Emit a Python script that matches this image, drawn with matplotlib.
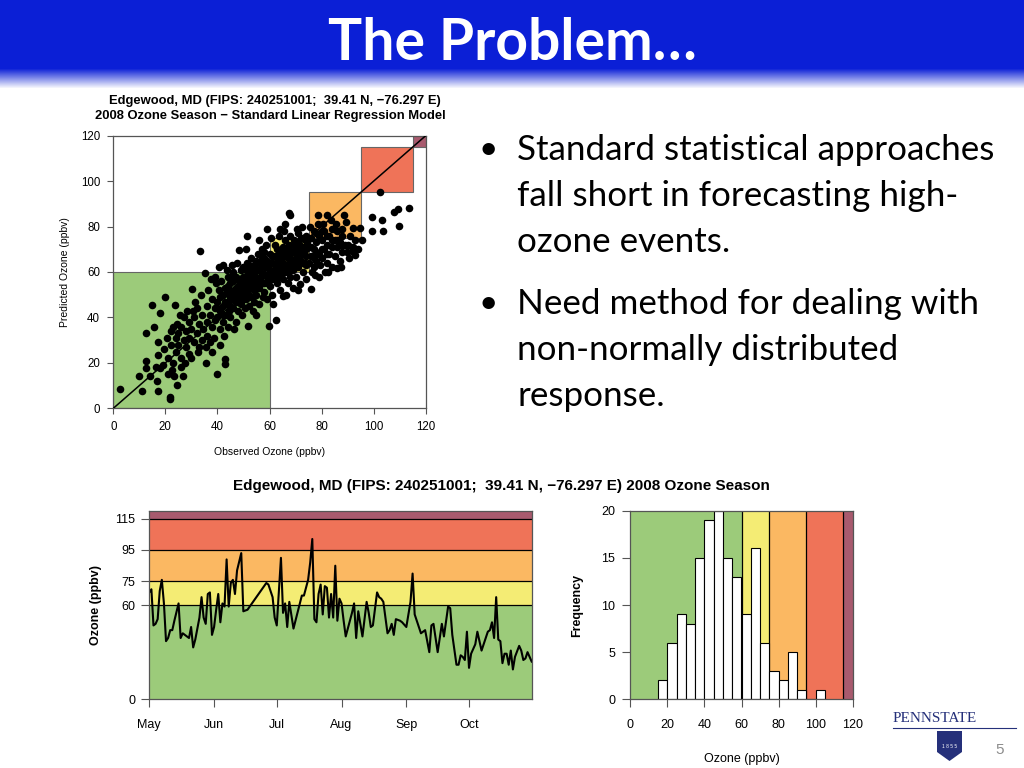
import numpy as np
import pandas as pd
import matplotlib
matplotlib.use("Agg")
import matplotlib.pyplot as plt
import matplotlib.dates as mdates
from matplotlib.patches import Rectangle, Polygon

plt.rcParams['font.family'] = ['Liberation Sans', 'DejaVu Sans']

# --- data ---
aq_edges = [0, 60, 75, 95, 115, 120]
aq_colors = ['#9ccb7a', '#f4ec74', '#fbb862', '#ef7358', '#a85a6e']

# observed vs predicted (ppbv), scatter panel
scatter_pts = np.array([
    (2.6, 8.5), (10.9, 7.6), (9.9, 14), (12.5, 17.6), (12.5, 20.8), (12.5, 33), (15, 45.5), (14, 14),
    (16.6, 12), (17, 7.8), (15.6, 36), (17.3, 29.3), (17.3, 23.5), (18, 17.9), (18, 42), (19, 19),
    (19.5, 26), (16.5, 18),
    (20, 49), (21.8, 4.8), (21.8, 4), (23.7, 45.5), (24.3, 10.3), (21, 15), (21, 22), (22, 28),
    (22, 34), (23, 36), (23, 20), (24, 25), (24, 31), (20.5, 31), (22.5, 17), (24.5, 37), (23.5, 14),
    (26.6, 14.4), (25, 28), (25, 33), (26, 36), (26, 22), (27, 30), (27, 40), (28, 27), (28, 34),
    (29, 38), (29, 24), (26, 18), (28.5, 43), (25.5, 41), (27.5, 20), (29, 31),
    (30, 22), (30.4, 52.5), (33.3, 69.4), (30, 35), (31, 29), (31, 40), (32, 33), (32, 44), (33, 27),
    (33, 37), (34, 30), (34, 41), (31.5, 47), (32.5, 25), (34.5, 35), (30.5, 43), (33.5, 50),
    (35.4, 59.4), (35.8, 19.8), (37.8, 25), (36, 32), (36, 38), (36, 45), (37, 41), (37, 29), (38, 36),
    (38, 48), (39, 39), (39, 44), (36.5, 52), (38.5, 31), (39.5, 55), (37.5, 57), (35.5, 27),
    (39, 58), (40, 15.2), (43, 19.4), (43, 21.7), (41, 28), (40, 40), (40, 47), (41, 35), (41, 43),
    (42, 38), (42, 50), (42, 45), (43, 41), (43, 53), (44, 47), (44, 36), (44, 58), (40.5, 52),
    (41.5, 56), (42.5, 32), (43.5, 61), (44.5, 43), (40.5, 62), (42, 63),
    (45, 40), (45, 49), (45, 55), (46, 44), (46, 51), (46, 60), (47, 47), (47, 53), (47, 38), (48, 50),
    (48, 57), (48, 43), (49, 46), (49, 54), (49, 61), (45.5, 63), (46.5, 35), (48.4, 69.6), (47.5, 64),
    (49.5, 41), (45, 58), (48, 52),
    (51.6, 36.4), (51.2, 76), (55, 41), (50, 48), (50, 55), (50, 62), (51, 51), (51, 58), (52, 45),
    (52, 54), (52, 63), (53, 49), (53, 57), (53, 66), (54, 52), (54, 60), (54, 47), (50.5, 44),
    (51.5, 64), (52.5, 59), (53.5, 43), (54.5, 56), (50, 53), (51, 70), (53, 61),
    (59.9, 36.2), (59, 79), (55, 50), (55, 58), (55, 65), (56, 53), (56, 61), (56, 46), (57, 55),
    (57, 63), (57, 70), (58, 51), (58, 59), (58, 66), (59, 55), (59, 62), (59, 48), (55.5, 68),
    (56.5, 57), (57.5, 49), (58.5, 72), (59.5, 59), (56, 74),
    (62.5, 39), (65, 49.5), (64, 78.8), (60, 54), (60, 61), (60, 68), (61, 57), (61, 64), (61, 50),
    (62, 60), (62, 67), (62, 72), (63, 55), (63, 63), (63, 70), (64, 58), (64, 66), (64, 52),
    (60.5, 75), (61.5, 46), (62.5, 64), (63.5, 76), (64.5, 61),
    (67.5, 85.8), (67.9, 84.9), (65, 57), (65, 64), (65, 71), (66, 60), (66, 67), (66, 74), (67, 55),
    (67, 63), (67, 70), (68, 58), (68, 66), (68, 76), (69, 61), (69, 69), (69, 53), (65.5, 78),
    (66.5, 50), (67.5, 72), (68.5, 63), (69.5, 74), (66, 81),
    (71.7, 54.5), (70, 58), (70, 66), (70, 72), (71, 62), (71, 69), (71, 77), (72, 65), (72, 71),
    (73, 60), (73, 68), (73, 75), (74, 63), (74, 70), (74, 57), (70.5, 79), (72.5, 80), (73.5, 64),
    (74.5, 73), (71, 52),
    (75.8, 52.5), (77.6, 58.7), (79, 57.9), (78.8, 85), (75, 64), (75, 71), (76, 67), (76, 75),
    (77, 62), (77, 70), (77, 78), (78, 65), (78, 73), (79, 68), (79, 76), (75.5, 80), (76.5, 60),
    (78.5, 81), (79.5, 63),
    (81.3, 59.8), (82, 84.9), (80, 66), (80, 74), (81, 70), (81, 78), (82, 64), (82, 72), (83, 68),
    (83, 76), (84, 62), (84, 71), (84, 79), (80.5, 81), (82.5, 60), (83.5, 83),
    (86, 61.9), (88.6, 85), (89.4, 82), (89.9, 68.9), (85, 67), (85, 74), (86, 71), (86, 78),
    (87, 65), (87, 73), (88, 69), (88, 76), (89, 72), (85.5, 81), (87.5, 62),
    (91.5, 69.4), (92.2, 79.2), (94.8, 79.2), (95.4, 74), (93, 67.7), (90, 72), (91, 76), (92, 71),
    (93, 74), (94, 70), (90.5, 66),
    (102.4, 95), (99.2, 84), (99.2, 78.2), (103.4, 83), (103.7, 78.2), (107.8, 86.2), (109.5, 87.7),
    (113.7, 88), (109.8, 80.4),
    # dense core
    (40, 44), (41, 49), (42, 41), (43, 47), (44, 51), (44, 54), (45, 45), (45, 52), (46, 48),
    (46, 56), (47, 50), (47, 58), (48, 47), (48, 54), (49, 50), (49, 57), (50, 51), (50, 58),
    (51, 48), (51, 55), (51, 61), (52, 50), (52, 57), (53, 53), (53, 59), (54, 55), (54, 63),
    (55, 53), (55, 61), (56, 56), (56, 64), (57, 59), (57, 66), (58, 55), (58, 62), (58, 69),
    (59, 58), (59, 65), (60, 58), (60, 64), (61, 60), (61, 67), (62, 57), (62, 63), (63, 60),
    (63, 66), (64, 62), (64, 69), (65, 60), (65, 67), (66, 63), (66, 70), (67, 60), (67, 66),
    (68, 62), (68, 69), (69, 65), (69, 72), (70, 62), (70, 69), (71, 65), (71, 73), (72, 68),
    (72, 75), (73, 64), (73, 71), (74, 67), (74, 76), (76, 71), (77, 66), (78, 69), (78, 77),
    (80, 70), (80, 78), (82, 68), (82, 76), (84, 74), (86, 74), (88, 72), (88, 79),
])
obs_ozone = scatter_pts[:, 0]
pred_ozone = scatter_pts[:, 1]

# daily max ozone, 2008 season (days after May 1)
season_day = [0, 1, 2, 3, 4, 5, 6, 7, 8, 9, 10, 11, 12, 14, 15, 16, 17, 19, 20, 21, 22, 24, 25, 26,
              27, 28, 29, 30, 31, 32, 33, 34, 35, 36, 37, 38, 39, 40, 41, 42, 44, 45, 47, 56, 57,
              59, 60, 61, 63, 64, 65, 66, 67, 69, 73, 74, 76, 77, 78, 79, 80, 81, 82, 83, 84, 85,
              86, 87, 88, 89, 90, 91, 92, 93, 94, 97, 98, 99, 100, 102, 104, 105, 106, 107, 109,
              110, 111, 112, 114, 115, 116, 117, 118, 120, 121, 123, 125, 126, 127, 130, 132, 134,
              135, 136, 138, 140, 141, 143, 144, 145, 147, 148, 149, 150, 151, 152, 153, 154, 156,
              157, 159, 160, 162, 163, 164, 165, 166, 167, 168, 169, 170, 171, 172, 173, 174, 175,
              177, 178, 179, 180, 181, 183]
daily_ozone = [68, 70, 47, 48, 51, 69, 76, 61, 37, 39, 44, 44, 50, 61, 39, 42, 41, 39, 46, 33, 38,
               52, 65, 52, 48, 67, 68, 41, 46, 57, 67, 49, 61, 59, 89, 59, 74, 76, 67, 82, 93, 56,
               57, 74, 73, 65, 52, 47, 90, 55, 61, 46, 62, 45, 66, 66, 76, 87, 102, 51, 49, 67, 73,
               54, 72, 71, 52, 67, 52, 85, 50, 64, 61, 50, 40, 55, 61, 39, 56, 40, 62, 55, 46, 47,
               68, 65, 64, 62, 42, 44, 48, 41, 51, 50, 49, 46, 62, 80, 54, 42, 44, 30, 47, 48, 30,
               48, 40, 59, 58, 41, 22, 22, 28, 27, 25, 43, 20, 29, 35, 43, 31, 35, 43, 44, 49, 39,
               65, 38, 37, 23, 29, 29, 22, 31, 19, 27, 34, 31, 25, 26, 30, 24]

# histogram counts, 5 ppbv bins from 15 to 105
hist_edges = np.arange(15, 110, 5)
hist_counts = [2, 6, 9, 8, 15, 19, 20, 15, 13, 9, 16, 6, 3, 2, 5, 1, 0, 1]

W, H = 1024, 768
fig = plt.figure(figsize=(W / 100, H / 100), dpi=100)

# header band with fade
hdr = fig.add_axes([0, 1 - 90 / H, 1, 90 / H])
grad = np.ones((90, 1, 3))
blue = np.array([11, 31, 214]) / 255
for i in range(90):
    t = 0 if i < 68 else min(1, (i - 68) / 20)
    grad[i, 0] = blue * (1 - t) + np.array([1, 1, 1]) * t
hdr.imshow(grad, aspect='auto', extent=[0, 1, 0, 1])
hdr.axis('off')
fig.text(0.5, 1 - 43 / H, 'The Problem…', ha='center', va='center', color='white',
         fontsize=41, fontweight='bold', family=['Lato', 'DejaVu Sans'])

# bullets
bullets = [
    ['Standard statistical approaches', 'fall short in forecasting high-', 'ozone events.'],
    ['Need method for dealing with', 'non-normally distributed', 'response.'],
]
y0s = [150, 304]
for lines, y0 in zip(bullets, y0s):
    fig.text(478 / W, 1 - y0 / H, '•', ha='left', va='center', fontsize=24,
             family=['Lato', 'DejaVu Sans'])
    for k, ln in enumerate(lines):
        fig.text(517 / W, 1 - (y0 + k * 46) / H, ln, ha='left', va='center', fontsize=25.2,
                 family=['Lato', 'DejaVu Sans'])

frame_col = '#555555'


def style_axes(ax, size, length, xpad, ypad):
    for s in ax.spines.values():
        s.set_color(frame_col)
        s.set_linewidth(0.9)
    ax.tick_params(direction='out', length=length, width=0.8, color=frame_col, labelsize=size)
    ax.tick_params(axis='x', pad=xpad)
    ax.tick_params(axis='y', pad=ypad)


# --- scatter ---
ax1 = fig.add_axes([113.3 / W, 1 - 408.3 / H, 312.4 / W, 272.6 / H])
for lo, hi, c in zip(aq_edges[:-1], aq_edges[1:], aq_colors):
    ax1.add_patch(Rectangle((lo, lo), hi - lo, hi - lo, facecolor=c, edgecolor='#666666', lw=0.8,
                            zorder=1))
ax1.scatter(obs_ozone, pred_ozone, s=30, color='black', zorder=2, linewidths=0)
ax1.plot([0, 120], [0, 120], color='black', lw=1.1, zorder=3)
ax1.set_xlim(0, 120)
ax1.set_ylim(0, 120)
ax1.set_xticks(range(0, 121, 20))
ax1.set_yticks(range(0, 121, 20))
style_axes(ax1, 8.3, 4.5, 5, 5)
ax1.set_xlabel('Observed Ozone (ppbv)', fontsize=7.5, labelpad=10)
ax1.set_ylabel('Predicted Ozone (ppbv)', fontsize=7.5, labelpad=8)
fig.text(275 / W, 1 - 101 / H, 'Edgewood, MD (FIPS: 240251001;  39.41 N, \u221276.297 E)',
         ha='center', va='center', fontsize=9.4, fontweight='bold')
fig.text(270 / W, 1 - 116 / H, '2008 Ozone Season \u2212 Standard Linear Regression Model',
         ha='center', va='center', fontsize=9.4, fontweight='bold')

# --- time series ---
ax2 = fig.add_axes([149.3 / W, 1 - 699.3 / H, 382.4 / W, 188.6 / H])
for lo, hi, c in zip(aq_edges[:-1], aq_edges[1:], aq_colors):
    ax2.axhspan(lo, hi, color=c, zorder=0, lw=0)
for lev in aq_edges[1:-1]:
    ax2.axhline(lev, color='black', lw=0.9, zorder=1)
dates = pd.Timestamp('2008-05-01') + pd.to_timedelta(season_day, unit='D')
ax2.plot(dates, daily_ozone, color='black', lw=1.5, zorder=2)
ax2.set_xlim(pd.Timestamp('2008-05-01'), pd.Timestamp('2008-10-31'))
ax2.set_ylim(0, 120)
ax2.set_yticks([0, 60, 75, 95, 115])
ax2.xaxis.set_major_locator(mdates.MonthLocator())
ax2.xaxis.set_major_formatter(mdates.DateFormatter('%b'))
style_axes(ax2, 9, 6, 8, 4)
ax2.set_ylabel('Ozone (ppbv)', fontsize=9, fontweight='bold', labelpad=10)
fig.text(501 / W, 1 - 486 / H,
         'Edgewood, MD (FIPS: 240251001;  39.41 N, \u221276.297 E) 2008 Ozone Season',
         ha='center', va='center', fontsize=11, fontweight='bold')

# --- histogram ---
ax3 = fig.add_axes([630.3 / W, 1 - 699.3 / H, 222.4 / W, 188.6 / H])
for lo, hi, c in zip(aq_edges[:-1], aq_edges[1:], aq_colors):
    ax3.axvspan(lo, hi, color=c, zorder=0, lw=0)
for lev in aq_edges[1:-1]:
    ax3.axvline(lev, color='black', lw=0.9, zorder=1)
ax3.bar(hist_edges[:-1], hist_counts, width=5, align='edge', color='white', edgecolor='black',
        lw=0.8, zorder=2)
ax3.set_xlim(0, 120)
ax3.set_ylim(0, 20)
ax3.set_xticks(range(0, 121, 20))
ax3.set_yticks(range(0, 21, 5))
style_axes(ax3, 9, 6, 8, 5)
ax3.set_xlabel('Ozone (ppbv)', fontsize=9, labelpad=16)
ax3.set_ylabel('Frequency', fontsize=9, fontweight='bold', labelpad=13)

# --- logo and page number ---
navy = '#25307a'
fig.text(893 / W, 1 - 718 / H, 'PENNSTATE', ha='left', va='center', fontsize=11,
         color=navy, family=['Liberation Serif', 'DejaVu Serif'])
fig.add_artist(plt.Line2D([893 / W, 1016 / W], [1 - 728 / H, 1 - 728 / H], color=navy, lw=0.8))
shield = [(937, 731), (962, 731), (962, 752), (949.5, 761), (937, 752)]
fig.add_artist(Polygon([(x / W, 1 - y / H) for x, y in shield], closed=True, facecolor=navy,
                       edgecolor='none'))
fig.text(949.5 / W, 1 - 746 / H, '1 8 5 5', ha='center', va='center', fontsize=3.5, color='white')
fig.text(1000 / W, 1 - 750 / H, '5', ha='center', va='center', fontsize=11, color='#8c8c8c')

fig.savefig('out.png', dpi=100)
